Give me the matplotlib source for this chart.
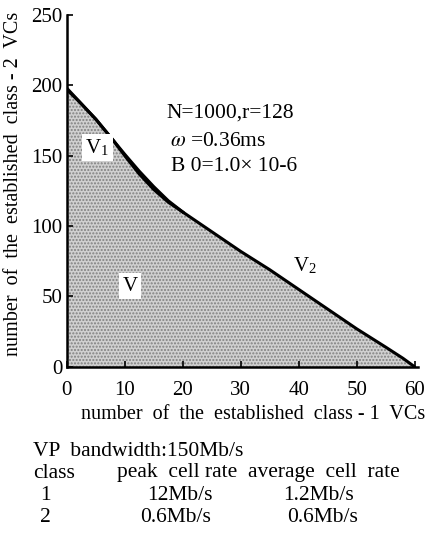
import matplotlib.pyplot as plt

plt.rcParams['font.family'] = ['Liberation Serif', 'DejaVu Serif']
plt.rcParams['mathtext.fontset'] = 'stix'

# admissible region boundary (class-1 VCs vs class-2 VCs)
n1_vals = [0, 2, 5, 8, 10, 12.5, 15, 17.5, 20, 25, 30, 35, 40, 45, 50, 55, 58, 60]
n2_vals = [197, 189, 176, 161, 150, 137, 126, 117, 110, 96, 82, 69, 55, 41, 27, 14, 6, 0]

# V1 boundary (slightly different near the knee)
v1_n1 = [0, 5, 10, 12.5, 15, 17.5, 20]
v1_n2 = [198, 176, 151, 139, 128, 118, 110]

x_ticks = [0, 10, 20, 30, 40, 50, 60]
y_ticks = [0, 50, 100, 150, 200, 250]

fig = plt.figure(figsize=(4.31, 5.37), dpi=100)
ax = fig.add_axes([0.155, 0.317, 0.815, 0.655])

ax.fill_between(n1_vals, n2_vals, 0, facecolor='#d0d0d0', edgecolor='#808080',
                hatch='.....', linewidth=0)
ax.plot(n1_vals, n2_vals, color='black', linewidth=2.2, solid_capstyle='round')
ax.plot(v1_n1, v1_n2, color='black', linewidth=2.2)

ax.set_xlim(0, 60.6)
ax.set_ylim(0, 250)
ax.set_xticks(x_ticks)
ax.set_yticks(y_ticks)
ax.spines['top'].set_visible(False)
ax.spines['right'].set_visible(False)
ax.spines['left'].set_linewidth(1.8)
ax.spines['bottom'].set_linewidth(1.8)
ax.tick_params(direction='in', length=4, width=1.2, labelsize=15)
ax.tick_params(axis='x', pad=10)
ax.tick_params(axis='y', pad=3)

ax.set_xlabel('number  of  the  established  class - 1  VCs', fontsize=14.5)
ax.set_ylabel('number  of  the  established  class - 2  VCs', fontsize=14.5)
ax.xaxis.set_label_coords(0.53, -0.11)
ax.yaxis.set_label_coords(-0.125, 0.52)

box = dict(facecolor='white', edgecolor='none', pad=2.5)
ax.text(3.2, 152, r'V$_{\mathregular{1}}$', fontsize=15, bbox=box)
ax.text(9.6, 54, 'V', fontsize=15, bbox=box)
ax.text(39, 68, r'V$_{\mathregular{2}}$', fontsize=15)

ax.text(17.2, 180, 'N=1000,r=128', fontsize=15.5, va='center')
ax.text(17.8, 160, '$\\omega$ =0.36ms', fontsize=15.5, va='center')
ax.text(17.9, 142, 'B 0=1.0\u00d7 10-6', fontsize=15.5, va='center')

fs = 15.5
def row(y_px, items):
    for x_frac, s in items:
        fig.text(x_frac, 1 - y_px / 537, s, fontsize=fs, va='center')

row(451, [(0.077, 'VP  bandwidth:150Mb/s')])
row(473, [(0.077, 'class'), (0.272, 'peak  cell rate'), (0.575, 'average  cell  rate')])
row(495, [(0.093, '1'), (0.341, '12Mb/s'), (0.657, '1.2Mb/s')])
row(517, [(0.093, '2'), (0.325, '0.6Mb/s'), (0.666, '0.6Mb/s')])

fig.savefig('out.png', dpi=100)
